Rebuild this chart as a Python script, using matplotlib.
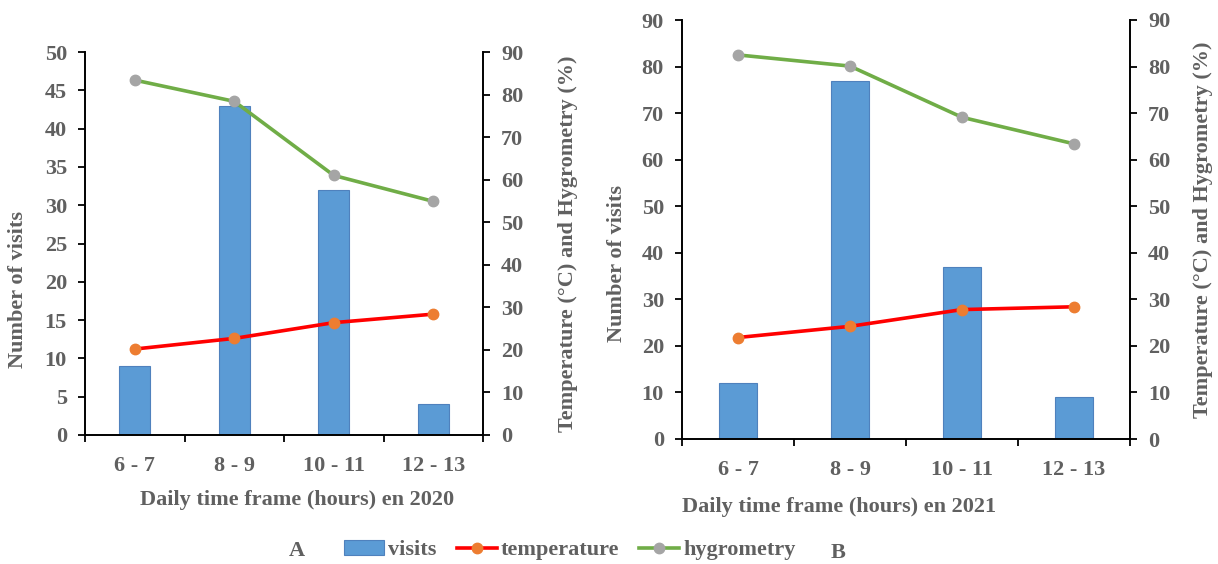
import numpy as np
import matplotlib
matplotlib.use("Agg")
import matplotlib.pyplot as plt

plt.rcParams['font.family'] = ['Liberation Serif', 'DejaVu Serif']
plt.rcParams['font.weight'] = 'bold'

hours = ['6 - 7', '8 - 9', '10 - 11', '12 - 13']

# 2020 (panel A)
visits_2020 = [9, 43, 32, 4]
temp_2020 = [20.2, 22.7, 26.4, 28.4]
hygro_2020 = [83.4, 78.4, 61.0, 54.9]

# 2021 (panel B)
visits_2021 = [12, 77, 37, 9]
temp_2021 = [21.8, 24.2, 27.8, 28.4]
hygro_2021 = [82.5, 80.1, 69.1, 63.4]

grey = '#606060'
bar_col = '#5B9BD5'
red = '#FF0000'
orange = '#ED7D31'
green = '#70AD47'
marker_grey = '#A5A5A5'
fs = 16

W, H = 1218, 564


def px_rect(l, r, t, b):
    return [l / W, 1 - b / H, (r - l) / W, (b - t) / H]


def panel(rect, visits, temp, hygro, ymax, ystep, bar_w, lab_left, lab_right):
    ax = fig.add_axes(rect)
    x = np.arange(len(hours))
    bars = ax.bar(x, visits, width=bar_w, color=bar_col, edgecolor='#4F81BD',
                  linewidth=0.8, zorder=2)
    ax.set_xlim(-0.5, len(hours) - 0.5)
    ax.set_ylim(0, ymax)
    ax.set_yticks(np.arange(0, ymax + 1, ystep))
    ax.set_xticks(np.arange(-0.5, len(hours)))
    ax.set_xticklabels([])
    ax.set_xticks(x, minor=True)
    ax.set_xticklabels(hours, minor=True)
    ax.tick_params(axis='x', which='major', length=5, width=1.3, direction='out')
    ax.tick_params(axis='x', which='minor', length=0, pad=15, labelsize=fs, labelcolor=grey)
    ax.tick_params(axis='y', length=5, width=1.3, labelsize=fs, labelcolor=grey, pad=8)
    ax.spines['top'].set_visible(False)
    ax.spines['right'].set_visible(False)
    for s in ('left', 'bottom'):
        ax.spines[s].set_linewidth(1.4)
    ax.set_ylabel('Number of visits', color=grey, fontsize=fs, fontweight='bold')
    ax.yaxis.set_label_coords(*lab_left)

    ax2 = ax.twinx()
    ax2.set_ylim(0, 90)
    ax2.set_yticks(np.arange(0, 91, 10))
    t_line, = ax2.plot(x, temp, color=red, lw=2.6, marker='o', ms=7.5,
                       mfc=orange, mec=orange, zorder=3)
    h_line, = ax2.plot(x, hygro, color=green, lw=2.6, marker='o', ms=7.5,
                       mfc=marker_grey, mec=marker_grey, zorder=3)
    ax2.tick_params(axis='y', length=5, width=1.3, labelsize=fs, labelcolor=grey, pad=8)
    ax2.spines['top'].set_visible(False)
    ax2.spines['left'].set_visible(False)
    ax2.spines['bottom'].set_visible(False)
    ax2.spines['right'].set_linewidth(1.4)
    ax2.set_ylabel('Temperature (°C) and Hygrometry (%)', color=grey,
                   fontsize=fs, fontweight='bold', rotation=90)
    ax2.yaxis.set_label_coords(*lab_right)
    return ax, bars, t_line, h_line


fig = plt.figure(figsize=(W / 100, H / 100), dpi=100)

axA, bA, tA, hA = panel(px_rect(85, 483, 52, 435),
                        visits_2020, temp_2020, hygro_2020, 50, 5, 0.31,
                        (-0.143, 0.379), (1.188, 0.5))
axB, bB, tB, hB = panel(px_rect(682, 1130, 20, 439),
                        visits_2021, temp_2021, hygro_2021, 90, 10, 0.34,
                        (-0.123, 0.42), (1.141, 0.5))

fig.text(297 / W, 1 - 500 / H, 'Daily time frame (hours) en 2020',
         ha='center', va='center', color=grey, fontsize=fs, fontweight='bold')
fig.text(839 / W, 1 - 507 / H, 'Daily time frame (hours) en 2021',
         ha='center', va='center', color=grey, fontsize=fs, fontweight='bold')

leg = fig.legend([bA, tA, hA], ['visits', 'temperature', 'hygrometry'],
                 loc='center', bbox_to_anchor=(570 / W, 1 - 550 / H),
                 ncol=3, frameon=False, fontsize=fs, handlelength=1.8,
                 handletextpad=0.2, columnspacing=0.9, borderpad=0)
for t in leg.get_texts():
    t.set_color(grey)
    t.set_fontweight('bold')

fig.text(297 / W, 1 - 551 / H, 'A', ha='center', va='center',
         color=grey, fontsize=fs, fontweight='bold')
fig.text(838 / W, 1 - 553 / H, 'B', ha='center', va='center',
         color=grey, fontsize=fs, fontweight='bold')

fig.savefig('out.png', dpi=100)
